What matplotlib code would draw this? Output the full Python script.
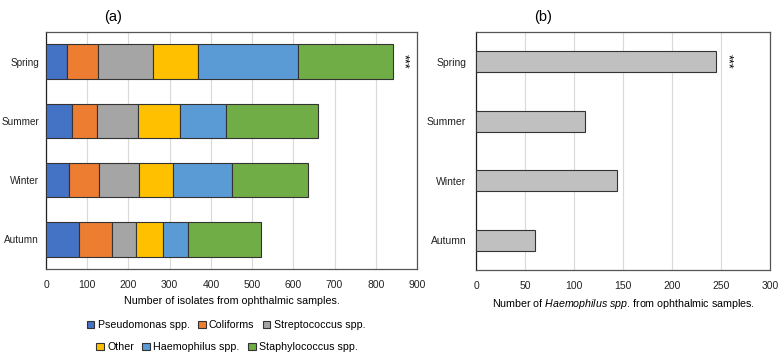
import matplotlib.pyplot as plt
import numpy as np

plt.rcParams['font.family'] = ['Liberation Sans', 'DejaVu Sans']
plt.rcParams['mathtext.fontset'] = 'custom'
plt.rcParams['mathtext.it'] = 'Liberation Sans:italic'
plt.rcParams['mathtext.rm'] = 'Liberation Sans'

seasons = ['Spring', 'Summer', 'Winter', 'Autumn']
organisms = ['Pseudomonas spp.', 'Coliforms', 'Streptococcus spp.',
             'Other', 'Haemophilus spp.', 'Staphylococcus spp.']
pseudomonas = [52, 64, 55, 79]
coliforms = [74, 60, 74, 81]
streptococcus = [134, 99, 96, 58]
other = [109, 102, 83, 65]
haemophilus = [243, 112, 143, 61]
staphylococcus = [229, 223, 185, 177]
haemophilus_b = [245, 111, 144, 60]

colors = ['#4472C4', '#ED7D31', '#A5A5A5', '#FFC000', '#5B9BD5', '#70AD47']

fig = plt.figure(figsize=(7.78, 3.54), dpi=100)
W, H = 778, 354
ax1 = fig.add_axes([46 / W, 1 - 269 / H, (417 - 46) / W, (269 - 32) / H])
ax2 = fig.add_axes([476 / W, 1 - 270 / H, (770 - 476) / W, (270 - 32) / H])

y = np.arange(len(seasons))
left = np.zeros(len(seasons))
handles = []
for vals, c, name in zip([pseudomonas, coliforms, streptococcus, other, haemophilus, staphylococcus],
                         colors, organisms):
    b = ax1.barh(y, vals, left=left, height=0.58, color=c, edgecolor='#333333',
                 linewidth=0.8, label=name, zorder=3)
    handles.append(b)
    left += np.array(vals)

ax2.barh(y, haemophilus_b, height=0.36, color='#C0C0C0', edgecolor='#333333',
         linewidth=0.8, zorder=3)

for ax, xmax, step in [(ax1, 900, 100), (ax2, 300, 50)]:
    ax.set_xlim(0, xmax)
    ax.set_xticks(np.arange(0, xmax + 1, step))
    ax.set_ylim(3.5, -0.5)
    ax.set_yticks(y)
    ax.set_yticklabels(seasons)
    ax.grid(axis='x', color='#D9D9D9', linewidth=0.8, zorder=0)
    ax.tick_params(length=0, labelsize=7.5, colors='#222222')
    ax.tick_params(axis='y', pad=7)
    ax.tick_params(axis='x', pad=8)
    for s in ax.spines.values():
        s.set_color('#555555')
        s.set_linewidth(0.9)
    ax.spines['left'].set_color('#222222')
ax1.tick_params(axis='y', pad=5, labelsize=7.2)

ax1.set_xlabel('Number of isolates from ophthalmic samples.', fontsize=7.7, labelpad=4)
ax2.set_xlabel(r'Number of $Haemophilus\ spp$. from ophthalmic samples.', fontsize=7.7, labelpad=4)

ax1.text(866, 0, '***', rotation=-90, va='center', ha='center', fontsize=9)
ax2.text(256, 0, '***', rotation=-90, va='center', ha='center', fontsize=9)

fig.text(113 / W, 1 - 17 / H, '(a)', ha='center', va='center', fontsize=10.5)
fig.text(543 / W, 1 - 17 / H, '(b)', ha='center', va='center', fontsize=10.5)

fig.legend(handles[:3], organisms[:3], loc='center', bbox_to_anchor=(226 / W, 1 - 325 / H),
           ncol=3, frameon=False, fontsize=7.7, handlelength=0.7, handleheight=0.7,
           handletextpad=0.3, columnspacing=0.8)
fig.legend(handles[3:], organisms[3:], loc='center', bbox_to_anchor=(227 / W, 1 - 347 / H),
           ncol=3, frameon=False, fontsize=7.7, handlelength=0.7, handleheight=0.7,
           handletextpad=0.3, columnspacing=0.8)

fig.savefig('out.png', dpi=100)
